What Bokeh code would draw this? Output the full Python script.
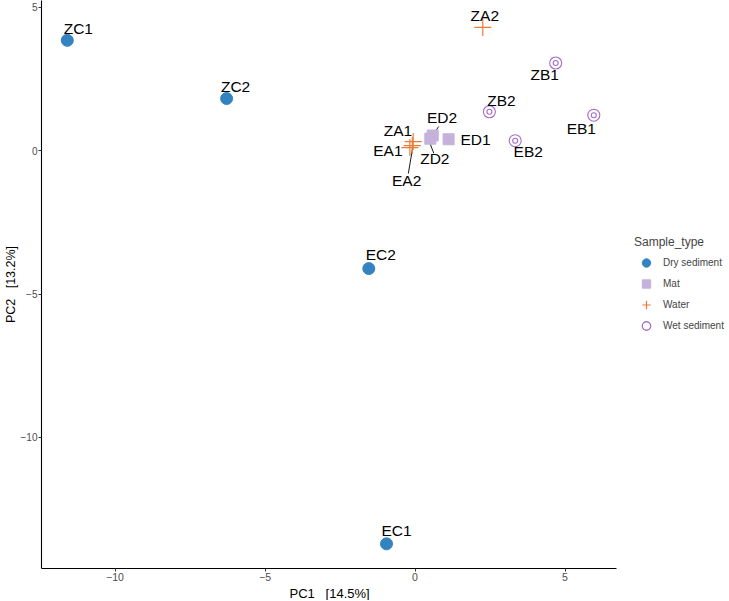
from bokeh.plotting import figure
from bokeh.models import (ColumnDataSource, Legend, LegendItem, FixedTicker, Range1d, Title)
from bokeh.embed import file_html
from bokeh.resources import INLINE
from bokeh.core.properties import value

# ---- data ----
samples = ["ZC1", "ZC2", "EC2", "EC1", "ED1", "ED2", "ZD2",
           "ZA1", "EA1", "EA2", "ZA2", "ZB1", "ZB2", "EB1", "EB2"]
pc1 = [-11.59, -6.28, -1.54, -0.95, 1.12, 0.59, 0.51,
       -0.06, -0.17, -0.09, 2.26, 4.69, 2.48, 5.96, 3.34]
pc2 = [3.85, 1.82, -4.11, -13.71, 0.40, 0.53, 0.42,
       0.32, 0.11, 0.18, 4.30, 3.06, 1.36, 1.24, 0.35]
sample_type = ["Dry sediment", "Dry sediment", "Dry sediment", "Dry sediment",
               "Mat", "Mat", "Mat",
               "Water", "Water", "Water", "Water",
               "Wet sediment", "Wet sediment", "Wet sediment", "Wet sediment"]
types = ["Dry sediment", "Mat", "Water", "Wet sediment"]
x_ticks = [-10, -5, 0, 5]
y_ticks = [-10, -5, 0, 5]
x_title = "PC1\u00a0\u00a0\u00a0[14.5%]"
y_title = "PC2\u00a0\u00a0\u00a0[13.2%]"

# ---- layout (label placement, px offsets from each point; screen y down) ----
label_off = {
    "ZC1": (11, -12), "ZC2": (9, -12), "EC2": (12, -14), "EC1": (10, -13),
    "ED1": (27, 0), "ED2": (9.4, -17.6), "ZD2": (4.5, 19.6),
    "ZA1": (-15.2, -10.7), "EA1": (-22, 3.3), "EA2": (-5.7, 35),
    "ZA2": (2, -12), "ZB1": (-11, 11.5), "ZB2": (12, -11),
    "EB1": (-12.5, 13), "EB2": (13, 11),
}
seg_off = {
    "ED2": ((6, -9), (2.6, -4)),
    "ZD2": ((0, 5.4), (3.5, 14.6)),
    "EA2": ((-4, 28), (0.4, 2)),
}

X_LO, X_HI = -12.45, 6.71          # extent of the drawn x axis (the panel)
YR = (-14.57, 5.24)
PX_PER_X = 30.0
FW = 684                            # frame reaches the right edge (legend sits there)
FH = 568
XR = (X_LO, X_LO + FW / PX_PER_X)
sx = PX_PER_X
sy = FH / (YR[1] - YR[0])

colors = {"Dry sediment": "#3383C0", "Mat": "#C4B2DA",
          "Water": "#EC7B35", "Wet sediment": "#A56CC8"}

p = figure(frame_width=FW, frame_height=FH, output_backend="svg",
           toolbar_location=None, x_range=Range1d(*XR), y_range=Range1d(*YR),
           min_border_left=0, min_border_top=0, min_border_bottom=0,
           min_border_right=0)
p.outline_line_color = None
p.xgrid.visible = False
p.ygrid.visible = False
p.background_fill_color = "white"
p.border_fill_color = "white"

FONT = "Liberation Sans"
for ax, ticks in ((p.xaxis[0], x_ticks), (p.yaxis[0], y_ticks)):
    ax.ticker = FixedTicker(ticks=ticks)
    ax.major_label_overrides = {t: (str(t).replace("-", "\u2212")) for t in ticks}
    ax.axis_label_text_font = FONT
    ax.axis_label_text_font_style = "normal"
    ax.axis_label_text_font_size = "12.5px"
    ax.axis_label_text_color = "black"
    ax.axis_label_standoff = 0
    ax.major_label_text_font = FONT
    ax.major_label_text_font_size = "10.5px"
    ax.major_label_text_color = "#4D4D4D"
    ax.major_label_standoff = 1
    ax.axis_line_color = "black"
    ax.axis_line_width = 1.1
    ax.major_tick_line_color = "#333333"
    ax.major_tick_out = 3
    ax.major_tick_in = 0
    ax.minor_tick_line_color = None
p.yaxis[0].axis_label = y_title
p.yaxis[0].major_label_text_font_size = "10px"
p.xaxis[0].bounds = (X_LO, X_HI)

# x-axis title, centred under the drawn axis (not under the wider frame)
xt = Title(text=x_title, align="left", offset=248, standoff=0,
           text_font=FONT, text_font_size="13px", text_font_style="normal",
           text_color="black")
p.add_layout(xt, "below")

# segments
sx0, sy0, sx1, sy1 = [], [], [], []
for s, ((ax0, ay0), (ax1, ay1)) in seg_off.items():
    i = samples.index(s)
    sx0.append(pc1[i] + ax0 / sx); sy0.append(pc2[i] - ay0 / sy)
    sx1.append(pc1[i] + ax1 / sx); sy1.append(pc2[i] - ay1 / sy)
p.segment(sx0, sy0, sx1, sy1, line_color="black", line_width=0.9)

items = []
for t in types:
    idx = [i for i, st in enumerate(sample_type) if st == t]
    src = ColumnDataSource(dict(x=[pc1[i] for i in idx], y=[pc2[i] for i in idx]))
    c = colors[t]
    if t == "Dry sediment":
        r = [p.scatter("x", "y", source=src, marker="circle", size=12,
                       fill_color=c, line_color=c)]
    elif t == "Mat":
        r = [p.scatter("x", "y", source=src, marker="square", size=11,
                       fill_color=c, line_color=c)]
    elif t == "Water":
        r = [p.scatter("x", "y", source=src, marker="cross", size=17,
                       line_color=c, line_width=1.2)]
    else:
        r = [p.scatter("x", "y", source=src, marker="circle", size=12,
                       fill_color=None, line_color=c, line_width=1.1),
             p.scatter("x", "y", source=src, marker="circle", size=5,
                       fill_color=None, line_color=c, line_width=1.1)]
    items.append(LegendItem(label=t, renderers=r))

# labels
tsrc = ColumnDataSource(dict(
    x=pc1, y=pc2, t=samples,
    xo=[label_off[s][0] for s in samples],
    yo=[label_off[s][1] for s in samples]))
p.text("x", "y", text="t", source=tsrc, x_offset="xo", y_offset="yo",
       text_align="center", text_baseline="middle",
       text_font=value(FONT), text_font_size="15.5px", text_color="black")

legend = Legend(items=items, title="Sample_type", location=(593, 232))
legend.title_text_font = FONT
legend.title_text_font_size = "12px"
legend.title_text_font_style = "normal"
legend.title_standoff = 3
legend.label_text_font = FONT
legend.label_text_font_size = "10px"
legend.label_standoff = 5
legend.glyph_width = 24
legend.glyph_height = 21
legend.label_height = 21
legend.spacing = 0
legend.padding = 0
legend.margin = 0
legend.border_line_color = None
legend.background_fill_alpha = 0
p.add_layout(legend, "center")

open("out.html", "w").write(file_html(p, INLINE))
